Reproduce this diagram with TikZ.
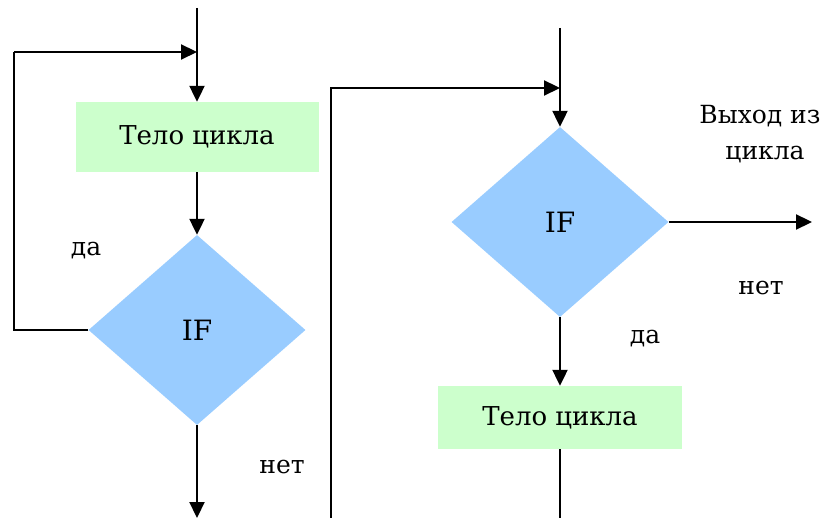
\documentclass[tikz,border=0pt]{standalone}
\usepackage{fontspec}
\setmainfont{DejaVu Serif}
\usetikzlibrary{shapes.geometric,arrows.meta}

\definecolor{bodygreen}{HTML}{CCFFCC}
\definecolor{ifblue}{HTML}{99CCFF}

\tikzset{
  bodybox/.style={rectangle, fill=bodygreen, draw=none, inner sep=0pt,
    minimum width=#1, font=\fontsize{26}{30}\selectfont},
  cond/.style={diamond, fill=ifblue, draw=none, inner sep=0pt,
    minimum width=217pt, minimum height=190pt, font=\fontsize{28}{30}\selectfont},
  lbl/.style={anchor=base, inner sep=0pt, font=\fontsize{25}{30}\selectfont},
  flow/.style={line width=2.2pt, -{Triangle[length=16pt,width=15pt]}},
  wire/.style={line width=2.2pt}
}

\begin{document}
\begin{tikzpicture}[x=1pt,y=-1pt]
\useasboundingbox (0,0) rectangle (832,518);

% ---- loop with postcondition (left) ----
\coordinate (in1) at (197,8);
\coordinate (join1) at (197,52);
\coordinate (turn1) at (14,52);
\node[bodybox=243pt, minimum height=70pt] (body1) at (197,137) {Тело цикла};
\node[cond] (if1) at (197,330) {IF};
\coordinate (out1) at (197,518);

\draw[flow] (in1) -- (body1.north);
\draw[flow] (body1.south) -- (if1.north);
\draw[wire] (if1.west) -| (turn1);
\draw[flow] (turn1) -- (join1);
\draw[flow] (if1.south) -- (out1);

\node[lbl] (yes1) at (86,256) {да};
\node[lbl] (no1) at (282,473) {нет};

% ---- loop with precondition (right) ----
\coordinate (in2) at (560,28);
\coordinate (join2) at (560,88);
\coordinate (back2) at (331,520);
\node[cond] (if2) at (560,222) {IF};
\node[bodybox=244pt, minimum height=63pt] (body2) at (560,417.5) {Тело цикла};
\coordinate (exit2) at (812,222);
\coordinate (end2) at (560,520);

\draw[flow] (in2) -- (if2.north);
\draw[flow] (back2) |- (join2);
\draw[flow] (if2.east) -- (exit2);
\draw[flow] (if2.south) -- (body2.north);
\draw[wire] (body2.south) -- (end2);

\node[lbl] (exitA) at (760,124) {Выход из};
\node[lbl] (exitB) at (765,160) {цикла};
\node[lbl] (no2) at (761,295) {нет};
\node[lbl] (yes2) at (645,343) {да};
\end{tikzpicture}
\end{document}
